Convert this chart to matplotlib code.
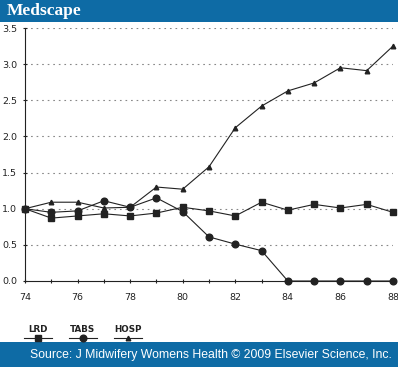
import matplotlib
matplotlib.use("Agg")
import matplotlib.pyplot as plt
from matplotlib.patches import Rectangle
from matplotlib.lines import Line2D

# Data
years = [74, 75, 76, 77, 78, 79, 80, 81, 82, 83, 84, 85, 86, 87, 88]
lrd = [1.0, 0.87, 0.90, 0.93, 0.90, 0.94, 1.02, 0.97, 0.90, 1.09, 0.98, 1.06, 1.01, 1.06, 0.95]
tabs = [1.0, 0.95, 0.97, 1.11, 1.02, 1.15, 0.96, 0.61, 0.51, 0.42, 0.0, 0.0, 0.0, 0.0, 0.0]
hosp = [1.0, 1.09, 1.09, 1.01, 1.02, 1.30, 1.27, 1.58, 2.12, 2.42, 2.63, 2.74, 2.95, 2.91, 3.25]
yticks = [0.0, 0.5, 1.0, 1.5, 2.0, 2.5, 3.0, 3.5]
xlabels = [74, 76, 78, 80, 82, 84, 86, 88]

blue = "#0e6ba5"
ink = "#222222"

fig = plt.figure(figsize=(3.98, 3.67), dpi=100)

# header and footer bands
fig.patches.append(Rectangle((0, 1 - 22 / 367), 1, 22 / 367, transform=fig.transFigure,
                             facecolor=blue, edgecolor="none", zorder=0))
fig.patches.append(Rectangle((0, 0), 1, 25 / 367, transform=fig.transFigure,
                             facecolor=blue, edgecolor="none", zorder=0))
fig.text(7 / 398, 1 - 11 / 367, "Medscape", color="white", fontsize=12.5,
         family="Liberation Serif", fontweight="bold", va="center", ha="left")
fig.text(211 / 398, 12 / 367, "Source: J Midwifery Womens Health \u00a9 2009 Elsevier Science, Inc.",
         color="white", fontsize=8.8, family="Liberation Sans", va="center", ha="center")

ax = fig.add_axes([25 / 398, 1 - 281 / 367, 368 / 398, 253 / 367])
ax.plot(years, lrd, color=ink, lw=0.8, marker="s", ms=3.8, clip_on=False, zorder=3)
ax.plot(years, tabs, color=ink, lw=0.8, marker="o", ms=4.8, clip_on=False, zorder=3)
ax.plot(years, hosp, color=ink, lw=0.8, marker="^", ms=3.3, clip_on=False, zorder=3)

ax.set_xlim(74, 88)
ax.set_ylim(0, 3.5)
ax.set_yticks(yticks)
ax.set_yticklabels([f"{v:.1f}" for v in yticks])
ax.set_xticks(years, minor=False)
ax.set_xticklabels([str(y) if y in xlabels else "" for y in years])
for v in yticks[1:]:
    ax.axhline(v, color="#888888", lw=0.8, ls=(0, (1.5, 3.5)), zorder=1)

for s in ["top", "right"]:
    ax.spines[s].set_visible(False)
ax.spines["left"].set_color(ink)
ax.spines["bottom"].set_color(ink)
ax.tick_params(axis="both", labelsize=6.8, colors=ink, length=3, width=0.8, direction="inout", pad=4)
ax.tick_params(axis="x", pad=7)

# legend drawn below the axes
legend_items = [("LRD", "s", 3.8, 38), ("TABS", "o", 4.8, 83), ("HOSP", "^", 3.3, 128)]
for name, mk, size, cx in legend_items:
    fig.text(cx / 398, 1 - 329 / 367, name, fontsize=6.3, fontweight="bold", color=ink,
             ha="center", va="center")
    fig.add_artist(Line2D([(cx - 14) / 398, (cx + 14) / 398], [1 - 338 / 367] * 2,
                          color=ink, lw=0.8, transform=fig.transFigure))
    fig.add_artist(Line2D([cx / 398], [1 - 338 / 367], color=ink, marker=mk, ms=size,
                          ls="none", transform=fig.transFigure))

fig.savefig("out.png", dpi=100)
